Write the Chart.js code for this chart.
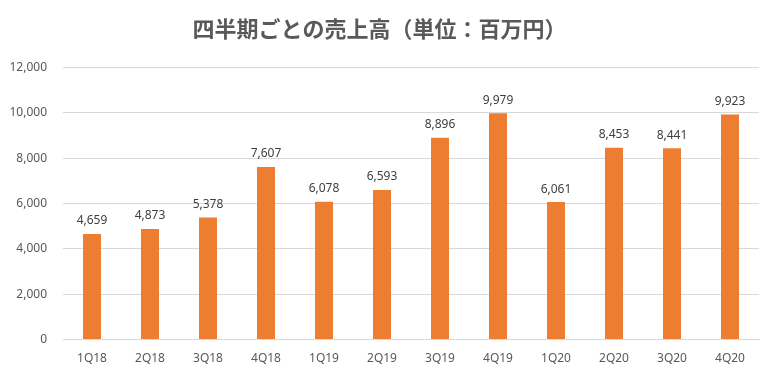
<!DOCTYPE html>
<html>
<head>
<meta charset="utf-8">
<script src="https://cdn.jsdelivr.net/npm/chart.js@4/dist/chart.umd.min.js"></script>
<style>
  html, body { margin: 0; padding: 0; background: #fff; }
  #wrap { width: 776px; height: 374px; }
</style>
</head>
<body>
<div id="wrap"><canvas id="chart" width="776" height="374"></canvas></div>
<script>
const quarters = ["1Q18","2Q18","3Q18","4Q18","1Q19","2Q19","3Q19","4Q19","1Q20","2Q20","3Q20","4Q20"]
const sales = [4659, 4873, 5378, 7607, 6078, 6593, 8896, 9979, 6061, 8453, 8441, 9923]
const titleText = "四半期ごとの売上高（単位：百万円）"

// 棒の上に値を表示
const valueLabels = {
  id: "valueLabels",
  afterDatasetsDraw(chart){
    const ctx = chart.ctx
    const meta = chart.getDatasetMeta(0)
    ctx.save()
    ctx.font = "12px 'Noto Sans'"
    ctx.fillStyle = "#404040"
    ctx.textAlign = "center"
    ctx.textBaseline = "bottom"
    meta.data.forEach((bar, i) => {
      ctx.fillText(sales[i].toLocaleString("en-US"), bar.x, bar.y - 7)
    })
    ctx.restore()
  }
}

new Chart(document.getElementById("chart"), {
  type: "bar",
  data: {
    labels: quarters,
    datasets: [{
      data: sales,
      backgroundColor: "#ED7D31",
      barPercentage: 0.62,
      categoryPercentage: 0.5
    }]
  },
  options: {
    responsive: false,
    animation: false,
    layout: { padding: { left: 0, right: 17, top: 0, bottom: 4 } },
    plugins: {
      legend: { display: false },
      tooltip: { enabled: false },
      title: {
        display: true,
        text: titleText,
        color: "#595959",
        font: { family: "'Noto Sans CJK JP'", size: 22, weight: "bold" },
        padding: { top: 15, bottom: 26 }
      }
    },
    scales: {
      x: {
        grid: { display: false },
        border: { display: true, color: "#d9d9d9" },
        ticks: { color: "#595959", font: { family: "'Noto Sans'", size: 12 }, padding: 4 }
      },
      y: {
        min: 0,
        max: 12000,
        afterFit(scale){ scale.width = 63 },
        grid: { color: "#d9d9d9", drawTicks: false },
        border: { display: false },
        ticks: {
          stepSize: 2000,
          padding: 16,
          color: "#595959",
          font: { family: "'Noto Sans'", size: 12 },
          callback: v => v.toLocaleString("en-US")
        }
      }
    }
  },
  plugins: [valueLabels]
})
</script>
</body>
</html>
